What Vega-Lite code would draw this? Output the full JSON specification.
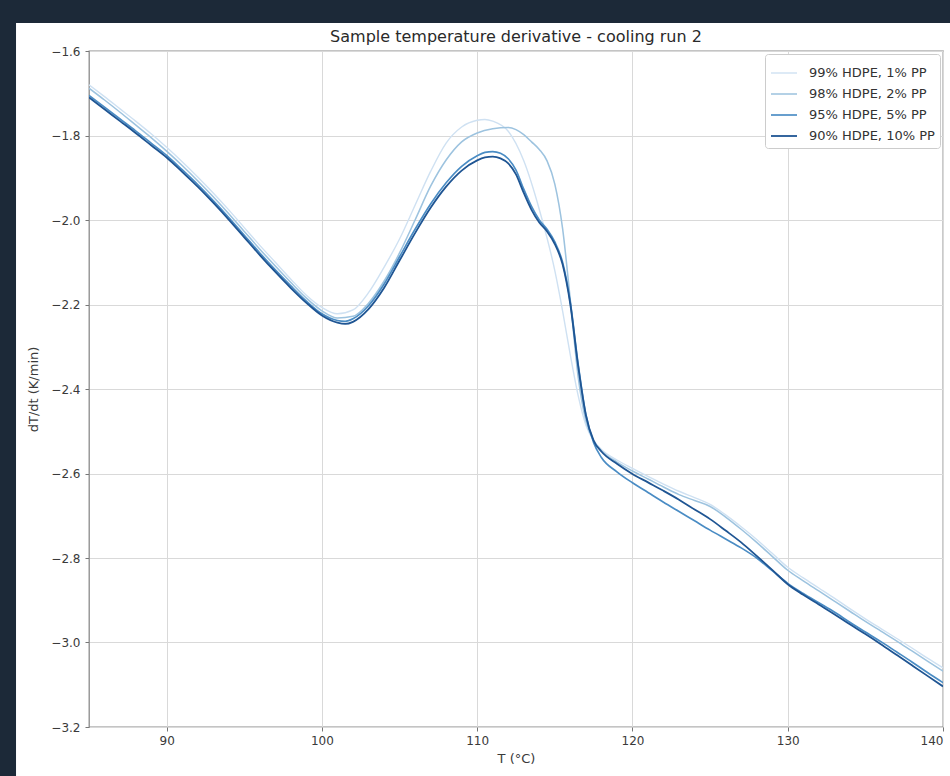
{
  "$schema": "https://vega.github.io/schema/vega-lite/v6.json",
  "width": 854,
  "height": 676,
  "autosize": {"type": "none"},
  "padding": {"left": 89, "top": 51, "right": 7, "bottom": 49},
  "background": "white",
  "config": {
    "font": "DejaVu Sans",
    "view": {"stroke": "#8a8a8a", "strokeWidth": 1.3},
    "axis": {
      "domain": false,
      "grid": true,
      "gridColor": "#d9d9d9",
      "gridWidth": 1,
      "tickColor": "#777",
      "tickSize": 4,
      "labelFont": "DejaVu Sans",
      "labelFontSize": 12,
      "labelColor": "#3a3a3a",
      "titleFont": "DejaVu Sans",
      "titleFontSize": 13,
      "titleFontWeight": "normal",
      "titleColor": "#3a3a3a"
    }
  },
  "title": {
    "text": "Sample temperature derivative - cooling run 2",
    "font": "DejaVu Sans",
    "fontSize": 16,
    "fontWeight": "normal",
    "color": "#2a2a2a",
    "anchor": "middle",
    "frame": "group",
    "offset": -45
  },
  "layer": [
    {
      "data": {"values": [{}]},
      "mark": {"type": "rect", "color": "#1c2938", "clip": false},
      "encoding": {
        "x": {"datum": 70, "type": "quantitative", "scale": {"domain": [85, 140], "nice": false, "zero": false}},
        "x2": {"datum": 80.3},
        "y": {"datum": -1.4793, "type": "quantitative", "scale": {"domain": [-3.2, -1.6], "nice": false, "zero": false}},
        "y2": {"datum": -3.6}
      }
    },
    {
      "data": {"values": [{}]},
      "mark": {"type": "rect", "color": "#1c2938", "clip": false},
      "encoding": {
        "x": {"datum": 70, "type": "quantitative"},
        "x2": {"datum": 150},
        "y": {"datum": -1.4793, "type": "quantitative"},
        "y2": {"datum": -1.5337}
      }
    },
    {
      "data": {"values": [
        {"T":85,"rate":-1.680,"sample":"99% HDPE, 1% PP"},{"T":86,"rate":-1.708,"sample":"99% HDPE, 1% PP"},{"T":87,"rate":-1.737,"sample":"99% HDPE, 1% PP"},{"T":88,"rate":-1.766,"sample":"99% HDPE, 1% PP"},{"T":89,"rate":-1.796,"sample":"99% HDPE, 1% PP"},{"T":90,"rate":-1.828,"sample":"99% HDPE, 1% PP"},{"T":91,"rate":-1.862,"sample":"99% HDPE, 1% PP"},{"T":92,"rate":-1.898,"sample":"99% HDPE, 1% PP"},{"T":93,"rate":-1.936,"sample":"99% HDPE, 1% PP"},{"T":94,"rate":-1.976,"sample":"99% HDPE, 1% PP"},{"T":95,"rate":-2.018,"sample":"99% HDPE, 1% PP"},{"T":96,"rate":-2.060,"sample":"99% HDPE, 1% PP"},{"T":97,"rate":-2.100,"sample":"99% HDPE, 1% PP"},{"T":98,"rate":-2.140,"sample":"99% HDPE, 1% PP"},{"T":99,"rate":-2.178,"sample":"99% HDPE, 1% PP"},{"T":100,"rate":-2.207,"sample":"99% HDPE, 1% PP"},{"T":101,"rate":-2.222,"sample":"99% HDPE, 1% PP"},{"T":102,"rate":-2.213,"sample":"99% HDPE, 1% PP"},{"T":103,"rate":-2.172,"sample":"99% HDPE, 1% PP"},{"T":104,"rate":-2.112,"sample":"99% HDPE, 1% PP"},{"T":105,"rate":-2.045,"sample":"99% HDPE, 1% PP"},{"T":106,"rate":-1.965,"sample":"99% HDPE, 1% PP"},{"T":107,"rate":-1.885,"sample":"99% HDPE, 1% PP"},{"T":108,"rate":-1.818,"sample":"99% HDPE, 1% PP"},{"T":109,"rate":-1.780,"sample":"99% HDPE, 1% PP"},{"T":110,"rate":-1.764,"sample":"99% HDPE, 1% PP"},{"T":110.5,"rate":-1.762,"sample":"99% HDPE, 1% PP"},{"T":111,"rate":-1.766,"sample":"99% HDPE, 1% PP"},{"T":112,"rate":-1.790,"sample":"99% HDPE, 1% PP"},{"T":113,"rate":-1.860,"sample":"99% HDPE, 1% PP"},{"T":114,"rate":-1.975,"sample":"99% HDPE, 1% PP"},{"T":115,"rate":-2.120,"sample":"99% HDPE, 1% PP"},{"T":115.5,"rate":-2.215,"sample":"99% HDPE, 1% PP"},{"T":116,"rate":-2.320,"sample":"99% HDPE, 1% PP"},{"T":116.5,"rate":-2.415,"sample":"99% HDPE, 1% PP"},{"T":117,"rate":-2.485,"sample":"99% HDPE, 1% PP"},{"T":117.5,"rate":-2.522,"sample":"99% HDPE, 1% PP"},{"T":118,"rate":-2.543,"sample":"99% HDPE, 1% PP"},{"T":119,"rate":-2.568,"sample":"99% HDPE, 1% PP"},{"T":120,"rate":-2.588,"sample":"99% HDPE, 1% PP"},{"T":121,"rate":-2.607,"sample":"99% HDPE, 1% PP"},{"T":122,"rate":-2.625,"sample":"99% HDPE, 1% PP"},{"T":123,"rate":-2.642,"sample":"99% HDPE, 1% PP"},{"T":124,"rate":-2.657,"sample":"99% HDPE, 1% PP"},{"T":125,"rate":-2.673,"sample":"99% HDPE, 1% PP"},{"T":126,"rate":-2.698,"sample":"99% HDPE, 1% PP"},{"T":127,"rate":-2.726,"sample":"99% HDPE, 1% PP"},{"T":128,"rate":-2.756,"sample":"99% HDPE, 1% PP"},{"T":129,"rate":-2.789,"sample":"99% HDPE, 1% PP"},{"T":130,"rate":-2.822,"sample":"99% HDPE, 1% PP"},{"T":131,"rate":-2.847,"sample":"99% HDPE, 1% PP"},{"T":132,"rate":-2.871,"sample":"99% HDPE, 1% PP"},{"T":133,"rate":-2.895,"sample":"99% HDPE, 1% PP"},{"T":134,"rate":-2.920,"sample":"99% HDPE, 1% PP"},{"T":135,"rate":-2.944,"sample":"99% HDPE, 1% PP"},{"T":136,"rate":-2.967,"sample":"99% HDPE, 1% PP"},{"T":137,"rate":-2.990,"sample":"99% HDPE, 1% PP"},{"T":138,"rate":-3.013,"sample":"99% HDPE, 1% PP"},{"T":139,"rate":-3.037,"sample":"99% HDPE, 1% PP"},{"T":140,"rate":-3.060,"sample":"99% HDPE, 1% PP"},
        {"T":85,"rate":-1.688,"sample":"98% HDPE, 2% PP"},{"T":86,"rate":-1.716,"sample":"98% HDPE, 2% PP"},{"T":87,"rate":-1.745,"sample":"98% HDPE, 2% PP"},{"T":88,"rate":-1.775,"sample":"98% HDPE, 2% PP"},{"T":89,"rate":-1.805,"sample":"98% HDPE, 2% PP"},{"T":90,"rate":-1.837,"sample":"98% HDPE, 2% PP"},{"T":91,"rate":-1.871,"sample":"98% HDPE, 2% PP"},{"T":92,"rate":-1.907,"sample":"98% HDPE, 2% PP"},{"T":93,"rate":-1.945,"sample":"98% HDPE, 2% PP"},{"T":94,"rate":-1.985,"sample":"98% HDPE, 2% PP"},{"T":95,"rate":-2.027,"sample":"98% HDPE, 2% PP"},{"T":96,"rate":-2.069,"sample":"98% HDPE, 2% PP"},{"T":97,"rate":-2.109,"sample":"98% HDPE, 2% PP"},{"T":98,"rate":-2.148,"sample":"98% HDPE, 2% PP"},{"T":99,"rate":-2.185,"sample":"98% HDPE, 2% PP"},{"T":100,"rate":-2.215,"sample":"98% HDPE, 2% PP"},{"T":101,"rate":-2.232,"sample":"98% HDPE, 2% PP"},{"T":102,"rate":-2.228,"sample":"98% HDPE, 2% PP"},{"T":103,"rate":-2.197,"sample":"98% HDPE, 2% PP"},{"T":104,"rate":-2.145,"sample":"98% HDPE, 2% PP"},{"T":105,"rate":-2.078,"sample":"98% HDPE, 2% PP"},{"T":106,"rate":-2.000,"sample":"98% HDPE, 2% PP"},{"T":107,"rate":-1.920,"sample":"98% HDPE, 2% PP"},{"T":108,"rate":-1.858,"sample":"98% HDPE, 2% PP"},{"T":109,"rate":-1.815,"sample":"98% HDPE, 2% PP"},{"T":110,"rate":-1.794,"sample":"98% HDPE, 2% PP"},{"T":111,"rate":-1.784,"sample":"98% HDPE, 2% PP"},{"T":112,"rate":-1.781,"sample":"98% HDPE, 2% PP"},{"T":112.5,"rate":-1.786,"sample":"98% HDPE, 2% PP"},{"T":113,"rate":-1.798,"sample":"98% HDPE, 2% PP"},{"T":113.5,"rate":-1.815,"sample":"98% HDPE, 2% PP"},{"T":114,"rate":-1.833,"sample":"98% HDPE, 2% PP"},{"T":114.5,"rate":-1.860,"sample":"98% HDPE, 2% PP"},{"T":115,"rate":-1.915,"sample":"98% HDPE, 2% PP"},{"T":115.5,"rate":-2.020,"sample":"98% HDPE, 2% PP"},{"T":116,"rate":-2.190,"sample":"98% HDPE, 2% PP"},{"T":116.5,"rate":-2.370,"sample":"98% HDPE, 2% PP"},{"T":117,"rate":-2.475,"sample":"98% HDPE, 2% PP"},{"T":117.5,"rate":-2.522,"sample":"98% HDPE, 2% PP"},{"T":118,"rate":-2.546,"sample":"98% HDPE, 2% PP"},{"T":119,"rate":-2.573,"sample":"98% HDPE, 2% PP"},{"T":120,"rate":-2.594,"sample":"98% HDPE, 2% PP"},{"T":121,"rate":-2.613,"sample":"98% HDPE, 2% PP"},{"T":122,"rate":-2.632,"sample":"98% HDPE, 2% PP"},{"T":123,"rate":-2.650,"sample":"98% HDPE, 2% PP"},{"T":124,"rate":-2.664,"sample":"98% HDPE, 2% PP"},{"T":125,"rate":-2.678,"sample":"98% HDPE, 2% PP"},{"T":126,"rate":-2.703,"sample":"98% HDPE, 2% PP"},{"T":127,"rate":-2.732,"sample":"98% HDPE, 2% PP"},{"T":128,"rate":-2.763,"sample":"98% HDPE, 2% PP"},{"T":129,"rate":-2.796,"sample":"98% HDPE, 2% PP"},{"T":130,"rate":-2.829,"sample":"98% HDPE, 2% PP"},{"T":131,"rate":-2.854,"sample":"98% HDPE, 2% PP"},{"T":132,"rate":-2.878,"sample":"98% HDPE, 2% PP"},{"T":133,"rate":-2.902,"sample":"98% HDPE, 2% PP"},{"T":134,"rate":-2.926,"sample":"98% HDPE, 2% PP"},{"T":135,"rate":-2.950,"sample":"98% HDPE, 2% PP"},{"T":136,"rate":-2.973,"sample":"98% HDPE, 2% PP"},{"T":137,"rate":-2.996,"sample":"98% HDPE, 2% PP"},{"T":138,"rate":-3.020,"sample":"98% HDPE, 2% PP"},{"T":139,"rate":-3.044,"sample":"98% HDPE, 2% PP"},{"T":140,"rate":-3.068,"sample":"98% HDPE, 2% PP"},
        {"T":85,"rate":-1.705,"sample":"95% HDPE, 5% PP"},{"T":86,"rate":-1.733,"sample":"95% HDPE, 5% PP"},{"T":87,"rate":-1.761,"sample":"95% HDPE, 5% PP"},{"T":88,"rate":-1.789,"sample":"95% HDPE, 5% PP"},{"T":89,"rate":-1.818,"sample":"95% HDPE, 5% PP"},{"T":90,"rate":-1.847,"sample":"95% HDPE, 5% PP"},{"T":91,"rate":-1.881,"sample":"95% HDPE, 5% PP"},{"T":92,"rate":-1.916,"sample":"95% HDPE, 5% PP"},{"T":93,"rate":-1.954,"sample":"95% HDPE, 5% PP"},{"T":94,"rate":-1.994,"sample":"95% HDPE, 5% PP"},{"T":95,"rate":-2.036,"sample":"95% HDPE, 5% PP"},{"T":96,"rate":-2.078,"sample":"95% HDPE, 5% PP"},{"T":97,"rate":-2.118,"sample":"95% HDPE, 5% PP"},{"T":98,"rate":-2.156,"sample":"95% HDPE, 5% PP"},{"T":99,"rate":-2.192,"sample":"95% HDPE, 5% PP"},{"T":100,"rate":-2.222,"sample":"95% HDPE, 5% PP"},{"T":101,"rate":-2.238,"sample":"95% HDPE, 5% PP"},{"T":101.5,"rate":-2.240,"sample":"95% HDPE, 5% PP"},{"T":102,"rate":-2.234,"sample":"95% HDPE, 5% PP"},{"T":103,"rate":-2.203,"sample":"95% HDPE, 5% PP"},{"T":104,"rate":-2.152,"sample":"95% HDPE, 5% PP"},{"T":105,"rate":-2.087,"sample":"95% HDPE, 5% PP"},{"T":106,"rate":-2.022,"sample":"95% HDPE, 5% PP"},{"T":107,"rate":-1.962,"sample":"95% HDPE, 5% PP"},{"T":108,"rate":-1.912,"sample":"95% HDPE, 5% PP"},{"T":109,"rate":-1.873,"sample":"95% HDPE, 5% PP"},{"T":110,"rate":-1.848,"sample":"95% HDPE, 5% PP"},{"T":110.5,"rate":-1.840,"sample":"95% HDPE, 5% PP"},{"T":111,"rate":-1.838,"sample":"95% HDPE, 5% PP"},{"T":111.5,"rate":-1.842,"sample":"95% HDPE, 5% PP"},{"T":112,"rate":-1.855,"sample":"95% HDPE, 5% PP"},{"T":112.5,"rate":-1.882,"sample":"95% HDPE, 5% PP"},{"T":113,"rate":-1.927,"sample":"95% HDPE, 5% PP"},{"T":113.5,"rate":-1.968,"sample":"95% HDPE, 5% PP"},{"T":114,"rate":-2.000,"sample":"95% HDPE, 5% PP"},{"T":114.5,"rate":-2.022,"sample":"95% HDPE, 5% PP"},{"T":115,"rate":-2.052,"sample":"95% HDPE, 5% PP"},{"T":115.5,"rate":-2.100,"sample":"95% HDPE, 5% PP"},{"T":116,"rate":-2.195,"sample":"95% HDPE, 5% PP"},{"T":116.5,"rate":-2.340,"sample":"95% HDPE, 5% PP"},{"T":117,"rate":-2.460,"sample":"95% HDPE, 5% PP"},{"T":117.5,"rate":-2.527,"sample":"95% HDPE, 5% PP"},{"T":118,"rate":-2.562,"sample":"95% HDPE, 5% PP"},{"T":119,"rate":-2.596,"sample":"95% HDPE, 5% PP"},{"T":120,"rate":-2.622,"sample":"95% HDPE, 5% PP"},{"T":121,"rate":-2.645,"sample":"95% HDPE, 5% PP"},{"T":122,"rate":-2.668,"sample":"95% HDPE, 5% PP"},{"T":123,"rate":-2.690,"sample":"95% HDPE, 5% PP"},{"T":124,"rate":-2.712,"sample":"95% HDPE, 5% PP"},{"T":125,"rate":-2.734,"sample":"95% HDPE, 5% PP"},{"T":126,"rate":-2.755,"sample":"95% HDPE, 5% PP"},{"T":127,"rate":-2.776,"sample":"95% HDPE, 5% PP"},{"T":128,"rate":-2.800,"sample":"95% HDPE, 5% PP"},{"T":129,"rate":-2.830,"sample":"95% HDPE, 5% PP"},{"T":130,"rate":-2.860,"sample":"95% HDPE, 5% PP"},{"T":131,"rate":-2.884,"sample":"95% HDPE, 5% PP"},{"T":132,"rate":-2.906,"sample":"95% HDPE, 5% PP"},{"T":133,"rate":-2.928,"sample":"95% HDPE, 5% PP"},{"T":134,"rate":-2.952,"sample":"95% HDPE, 5% PP"},{"T":135,"rate":-2.975,"sample":"95% HDPE, 5% PP"},{"T":136,"rate":-2.998,"sample":"95% HDPE, 5% PP"},{"T":137,"rate":-3.022,"sample":"95% HDPE, 5% PP"},{"T":138,"rate":-3.046,"sample":"95% HDPE, 5% PP"},{"T":139,"rate":-3.071,"sample":"95% HDPE, 5% PP"},{"T":140,"rate":-3.095,"sample":"95% HDPE, 5% PP"},
        {"T":85,"rate":-1.710,"sample":"90% HDPE, 10% PP"},{"T":86,"rate":-1.738,"sample":"90% HDPE, 10% PP"},{"T":87,"rate":-1.766,"sample":"90% HDPE, 10% PP"},{"T":88,"rate":-1.794,"sample":"90% HDPE, 10% PP"},{"T":89,"rate":-1.823,"sample":"90% HDPE, 10% PP"},{"T":90,"rate":-1.852,"sample":"90% HDPE, 10% PP"},{"T":91,"rate":-1.886,"sample":"90% HDPE, 10% PP"},{"T":92,"rate":-1.921,"sample":"90% HDPE, 10% PP"},{"T":93,"rate":-1.959,"sample":"90% HDPE, 10% PP"},{"T":94,"rate":-1.999,"sample":"90% HDPE, 10% PP"},{"T":95,"rate":-2.041,"sample":"90% HDPE, 10% PP"},{"T":96,"rate":-2.083,"sample":"90% HDPE, 10% PP"},{"T":97,"rate":-2.123,"sample":"90% HDPE, 10% PP"},{"T":98,"rate":-2.161,"sample":"90% HDPE, 10% PP"},{"T":99,"rate":-2.196,"sample":"90% HDPE, 10% PP"},{"T":100,"rate":-2.226,"sample":"90% HDPE, 10% PP"},{"T":101,"rate":-2.243,"sample":"90% HDPE, 10% PP"},{"T":101.5,"rate":-2.246,"sample":"90% HDPE, 10% PP"},{"T":102,"rate":-2.241,"sample":"90% HDPE, 10% PP"},{"T":103,"rate":-2.211,"sample":"90% HDPE, 10% PP"},{"T":104,"rate":-2.161,"sample":"90% HDPE, 10% PP"},{"T":105,"rate":-2.096,"sample":"90% HDPE, 10% PP"},{"T":106,"rate":-2.031,"sample":"90% HDPE, 10% PP"},{"T":107,"rate":-1.971,"sample":"90% HDPE, 10% PP"},{"T":108,"rate":-1.921,"sample":"90% HDPE, 10% PP"},{"T":109,"rate":-1.883,"sample":"90% HDPE, 10% PP"},{"T":110,"rate":-1.859,"sample":"90% HDPE, 10% PP"},{"T":110.5,"rate":-1.852,"sample":"90% HDPE, 10% PP"},{"T":111,"rate":-1.850,"sample":"90% HDPE, 10% PP"},{"T":111.5,"rate":-1.854,"sample":"90% HDPE, 10% PP"},{"T":112,"rate":-1.866,"sample":"90% HDPE, 10% PP"},{"T":112.5,"rate":-1.892,"sample":"90% HDPE, 10% PP"},{"T":113,"rate":-1.936,"sample":"90% HDPE, 10% PP"},{"T":113.5,"rate":-1.976,"sample":"90% HDPE, 10% PP"},{"T":114,"rate":-2.006,"sample":"90% HDPE, 10% PP"},{"T":114.5,"rate":-2.027,"sample":"90% HDPE, 10% PP"},{"T":115,"rate":-2.057,"sample":"90% HDPE, 10% PP"},{"T":115.5,"rate":-2.105,"sample":"90% HDPE, 10% PP"},{"T":116,"rate":-2.200,"sample":"90% HDPE, 10% PP"},{"T":116.5,"rate":-2.345,"sample":"90% HDPE, 10% PP"},{"T":117,"rate":-2.462,"sample":"90% HDPE, 10% PP"},{"T":117.5,"rate":-2.522,"sample":"90% HDPE, 10% PP"},{"T":118,"rate":-2.548,"sample":"90% HDPE, 10% PP"},{"T":119,"rate":-2.577,"sample":"90% HDPE, 10% PP"},{"T":120,"rate":-2.601,"sample":"90% HDPE, 10% PP"},{"T":121,"rate":-2.621,"sample":"90% HDPE, 10% PP"},{"T":122,"rate":-2.641,"sample":"90% HDPE, 10% PP"},{"T":123,"rate":-2.662,"sample":"90% HDPE, 10% PP"},{"T":124,"rate":-2.685,"sample":"90% HDPE, 10% PP"},{"T":125,"rate":-2.708,"sample":"90% HDPE, 10% PP"},{"T":126,"rate":-2.735,"sample":"90% HDPE, 10% PP"},{"T":127,"rate":-2.763,"sample":"90% HDPE, 10% PP"},{"T":128,"rate":-2.795,"sample":"90% HDPE, 10% PP"},{"T":129,"rate":-2.828,"sample":"90% HDPE, 10% PP"},{"T":130,"rate":-2.862,"sample":"90% HDPE, 10% PP"},{"T":131,"rate":-2.887,"sample":"90% HDPE, 10% PP"},{"T":132,"rate":-2.910,"sample":"90% HDPE, 10% PP"},{"T":133,"rate":-2.933,"sample":"90% HDPE, 10% PP"},{"T":134,"rate":-2.957,"sample":"90% HDPE, 10% PP"},{"T":135,"rate":-2.980,"sample":"90% HDPE, 10% PP"},{"T":136,"rate":-3.004,"sample":"90% HDPE, 10% PP"},{"T":137,"rate":-3.029,"sample":"90% HDPE, 10% PP"},{"T":138,"rate":-3.054,"sample":"90% HDPE, 10% PP"},{"T":139,"rate":-3.079,"sample":"90% HDPE, 10% PP"},{"T":140,"rate":-3.104,"sample":"90% HDPE, 10% PP"}
      ]},
      "mark": {"type": "line", "interpolate": "monotone", "clip": true},
      "encoding": {
        "x": {
          "field": "T", "type": "quantitative",
          "scale": {"domain": [85, 140], "nice": false, "zero": false},
          "axis": {"title": "T (°C)", "values": [90, 100, 110, 120, 130, 140], "labelPadding": 4, "titlePadding": 6}
        },
        "y": {
          "field": "rate", "type": "quantitative",
          "scale": {"domain": [-3.2, -1.6], "nice": false, "zero": false},
          "axis": {"title": "dT/dt (K/min)", "values": [-1.6, -1.8, -2.0, -2.2, -2.4, -2.6, -2.8, -3.0, -3.2], "format": ".1f", "labelPadding": 5, "titlePadding": 10}
        },
        "color": {
          "field": "sample", "type": "ordinal",
          "scale": {
            "domain": ["99% HDPE, 1% PP", "98% HDPE, 2% PP", "95% HDPE, 5% PP", "90% HDPE, 10% PP"],
            "range": ["#cfe1f2", "#9dc3df", "#4a8cc4", "#1f5593"]
          },
          "legend": {
            "title": null,
            "orient": "top-right",
            "offset": 3,
            "fillColor": "white",
            "strokeColor": "#cccccc",
            "cornerRadius": 3,
            "padding": 5,
            "symbolType": "stroke",
            "symbolSize": 676,
            "labelFont": "DejaVu Sans",
            "labelFontSize": 13,
            "labelColor": "#333",
            "labelOffset": 11,
            "rowPadding": -6
          }
        },
        "strokeWidth": {
          "field": "sample", "type": "ordinal",
          "scale": {
            "domain": ["99% HDPE, 1% PP", "98% HDPE, 2% PP", "95% HDPE, 5% PP", "90% HDPE, 10% PP"],
            "range": [1.4, 1.8, 2.3, 2.8]
          },
          "legend": {"title": null}
        }
      }
    }
  ]
}
